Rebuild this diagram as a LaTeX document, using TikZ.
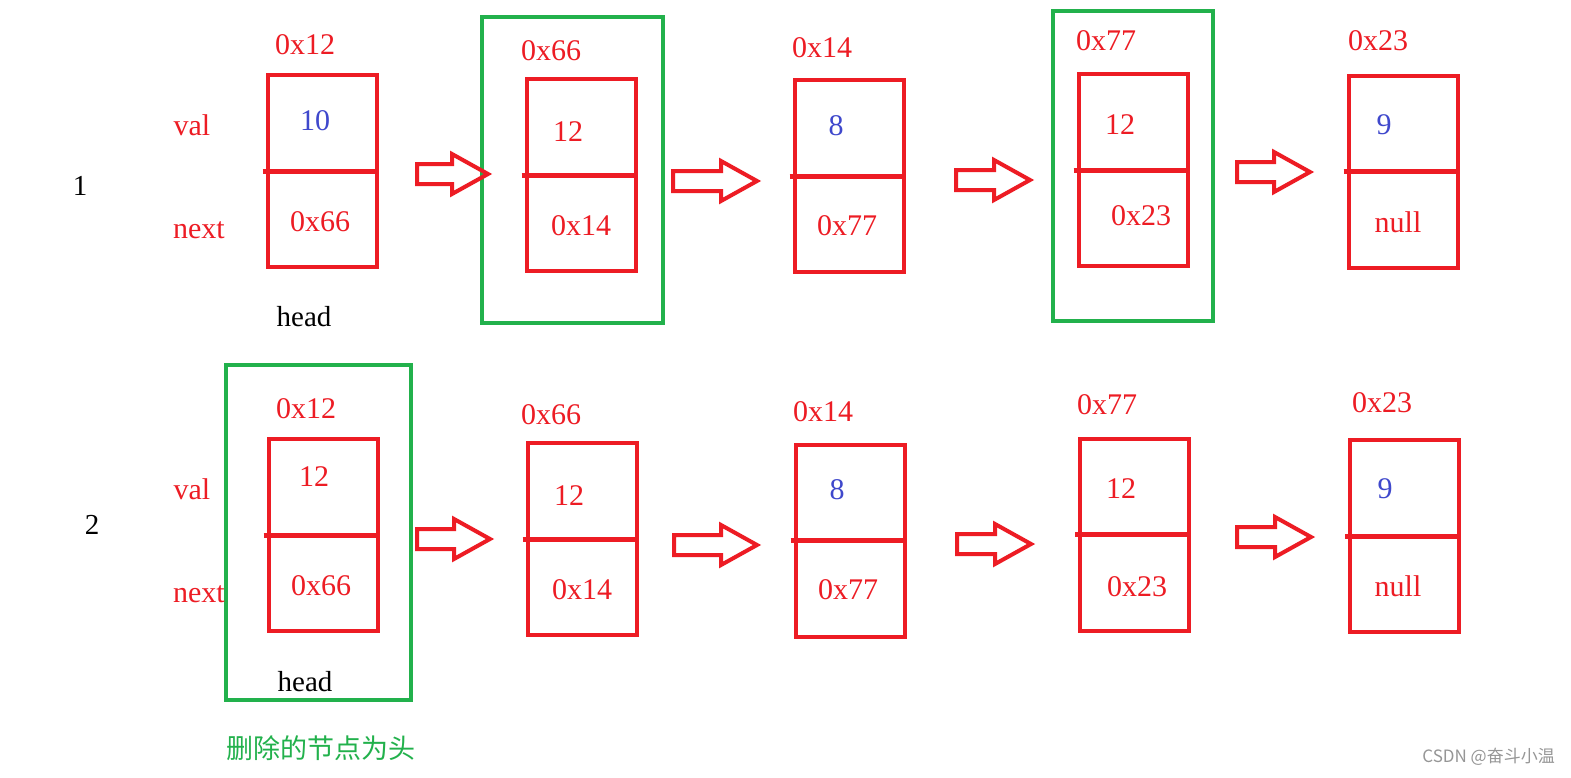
\documentclass[tikz,border=0pt]{standalone}
\usepackage{fontspec}
\setmainfont{Liberation Serif}
\newfontfamily\cjk{Noto Sans CJK SC}
\definecolor{rd}{RGB}{237,28,36}
\definecolor{gn}{RGB}{34,177,76}
\definecolor{bl}{RGB}{63,72,204}
\definecolor{wm}{RGB}{150,150,150}
\newcommand{\blk}[3]{%
  \draw[arr] (#1,#3-10) -- (#2-36,#3-10) -- (#2-36,#3-20) -- (#2,#3) -- (#2-36,#3+20) -- (#2-36,#3+10) -- (#1,#3+10) -- cycle;}
\begin{document}
\begin{tikzpicture}[x=1pt,y=-1pt,
  cell/.style={draw=rd,line width=4,minimum width=109,minimum height=192,inner sep=0,outer sep=0},
  grn/.style={draw=gn,line width=4,inner sep=0,outer sep=0},
  arr/.style={draw=rd,line width=4,line join=miter},
  div/.style={draw=rd,line width=5},
  lab/.style={text=rd,font=\fontsize{30}{32}\selectfont,inner sep=0},
  vb/.style={text=bl,font=\fontsize{30}{32}\selectfont,inner sep=0},
  hd/.style={text=black,font=\fontsize{29}{32}\selectfont,inner sep=0}]
\useasboundingbox (0,0) rectangle (1571,777);
\fill[white] (0,0) rectangle (1571,777);

% green highlight boxes
\node[grn,minimum width=181,minimum height=306] (g1) at (572.5,170) {};
\node[grn,minimum width=160,minimum height=310] (g2) at (1133,166) {};
\node[grn,minimum width=185,minimum height=335] (g3) at (318.5,532.5) {};

% row 1 cells
\node[cell] (a1) at (322,171) {};
\node[cell] (a2) at (581,175) {};
\node[cell] (a3) at (849,176) {};
\node[cell] (a4) at (1133,170) {};
\node[cell] (a5) at (1403,171.5) {};
% row 2 cells
\node[cell] (b1) at (323,535) {};
\node[cell] (b2) at (582,539) {};
\node[cell] (b3) at (850,540.5) {};
\node[cell] (b4) at (1134.5,534.5) {};
\node[cell] (b5) at (1404.5,536) {};

\foreach \n in {a1,a2,a3,a4,a5,b1,b2,b3,b4,b5}
  \draw[div] ([xshift=-5pt]\n.west) -- (\n.east);

% block arrows
\blk{417}{488}{174}
\blk{673}{757}{181}
\blk{956}{1030}{180}
\blk{1237}{1310}{172}
\blk{417}{490}{539}
\blk{674}{757}{545}
\blk{957}{1031}{544}
\blk{1237}{1311}{537}

% row 1 texts
\node[hd] (n1) at (80,186) {1};
\node[lab] (v1) at (192,125) {val};
\node[lab] (x1) at (199,230) {next};
\node[lab] (t11) at (305,45) {0x12};
\node[vb] (c11) at (315,121) {10};
\node[lab] (d11) at (320,222) {0x66};
\node[hd] (h1) at (304,317) {head};
\node[lab] (t12) at (551,51) {0x66};
\node[lab] (c12) at (568,132) {12};
\node[lab] (d12) at (581,226) {0x14};
\node[lab] (t13) at (822,48) {0x14};
\node[vb] (c13) at (836,126) {8};
\node[lab] (d13) at (847,226) {0x77};
\node[lab] (t14) at (1106,41) {0x77};
\node[lab] (c14) at (1120,125) {12};
\node[lab] (d14) at (1141,216) {0x23};
\node[lab] (t15) at (1378,41) {0x23};
\node[vb] (c15) at (1384,125) {9};
\node[lab] (d15) at (1398,222) {null};

% row 2 texts
\node[hd] (n2) at (92,525) {2};
\node[lab] (v2) at (192,489) {val};
\node[lab] (x2) at (199,594) {next};
\node[lab] (t21) at (306,409) {0x12};
\node[lab] (c21) at (314,477) {12};
\node[lab] (d21) at (321,586) {0x66};
\node[hd] (h2) at (305,682) {head};
\node[lab] (t22) at (551,415) {0x66};
\node[lab] (c22) at (569,496) {12};
\node[lab] (d22) at (582,590) {0x14};
\node[lab] (t23) at (823,412) {0x14};
\node[vb] (c23) at (837,490) {8};
\node[lab] (d23) at (848,590) {0x77};
\node[lab] (t24) at (1107,405) {0x77};
\node[lab] (c24) at (1121,489) {12};
\node[lab] (d24) at (1137,587) {0x23};
\node[lab] (t25) at (1382,403) {0x23};
\node[vb] (c25) at (1385,489) {9};
\node[lab] (d25) at (1398,586) {null};

\node[text=gn,font=\cjk\fontsize{27}{29}\selectfont,inner sep=0] (cap) at (321,748) {删除的节点为头};
\node[text=wm,font=\cjk\fontsize{17}{18}\selectfont,inner sep=0,anchor=east] (wmk) at (1555,757) {CSDN @奋斗小温};
\end{tikzpicture}
\end{document}
